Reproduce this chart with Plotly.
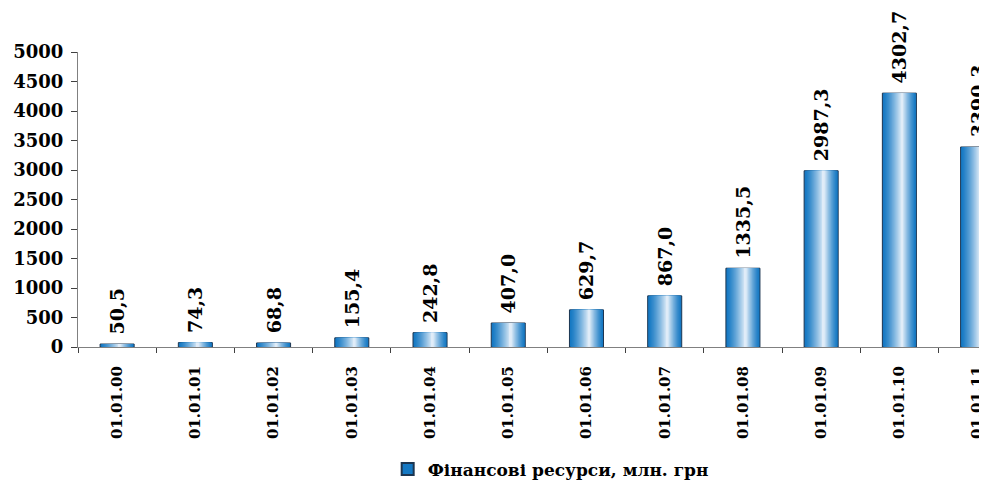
import plotly.graph_objs as go

dates = ["01.01.00", "01.01.01", "01.01.02", "01.01.03", "01.01.04", "01.01.05",
         "01.01.06", "01.01.07", "01.01.08", "01.01.09", "01.01.10", "01.01.11"]
resources = [50.5, 74.3, 68.8, 155.4, 242.8, 407.0, 629.7, 867.0, 1335.5, 2987.3, 4302.7, 3390.3]
value_labels = ["50,5", "74,3", "68,8", "155,4", "242,8", "407,0", "629,7", "867,0",
                "1335,5", "2987,3", "4302,7", "3390.3"]
series_name = "Фінансові ресурси, млн. грн"

FONT = "DejaVu Serif"
BAR_W = 0.435
HIGHLIGHT = 0.58  # where the white stripe sits across the bar
edge = (20, 120, 195)
centre = (240, 246, 253)
n_layers = 18

fig = go.Figure()

# gradient bars: overlaid bars, each narrower and lighter
for i in range(n_layers):
    t = i / n_layers
    left = -BAR_W / 2 + t * HIGHLIGHT * BAR_W
    right = BAR_W / 2 - t * (1 - HIGHLIGHT) * BAR_W
    c = tuple(int(edge[k] + (centre[k] - edge[k]) * t ** 1.3) for k in range(3))
    first = i == 0
    fig.add_trace(go.Bar(
        x=dates,
        y=resources,
        offset=left,
        width=right - left,
        marker=dict(color="rgb(%d,%d,%d)" % c,
                    line=dict(color="#1c3550" if first else "rgba(0,0,0,0)", width=1 if first else 0)),
        name=series_name,
        showlegend=first,
        text=["\u00a0" + s for s in value_labels] if first else None,
        textposition="outside" if first else "none",
        textangle=-90,
        textfont=dict(family=FONT, size=19, color="black", weight="bold"),
        cliponaxis=False,
        hoverinfo="skip",
    ))

fig.update_layout(
    width=987,
    height=488,
    barmode="overlay",
    uniformtext=dict(minsize=19, mode="show"),
    plot_bgcolor="white",
    paper_bgcolor="white",
    margin=dict(l=70, r=8, t=44, b=146),
    font=dict(family=FONT, color="black"),
    showlegend=True,
    legend=dict(
        orientation="h",
        x=0.52, xanchor="center",
        y=-0.415, yanchor="middle",
        font=dict(family=FONT, size=17, color="black", weight="bold"),
        itemsizing="constant",
    ),
    xaxis=dict(
        range=[-0.5, 11.12],
        tickangle=-90,
        tickfont=dict(family=FONT, size=15, color="black", weight="bold"),
        ticklabelstandoff=12,
        showline=True,
        linecolor="#808080",
        linewidth=1,
        ticks="outside",
        tickson="boundaries",
        ticklen=5,
        tickcolor="#404040",
        showgrid=False,
        zeroline=False,
        automargin=False,
    ),
    yaxis=dict(
        range=[0, 5000],
        tick0=0,
        dtick=500,
        tickfont=dict(family=FONT, size=18, color="black", weight="bold"),
        ticklabelstandoff=4,
        showline=True,
        linecolor="#808080",
        linewidth=1,
        ticks="outside",
        ticklen=6,
        tickcolor="#404040",
        showgrid=False,
        zeroline=False,
        automargin=False,
    ),
)

fig.write_html("out.html")
